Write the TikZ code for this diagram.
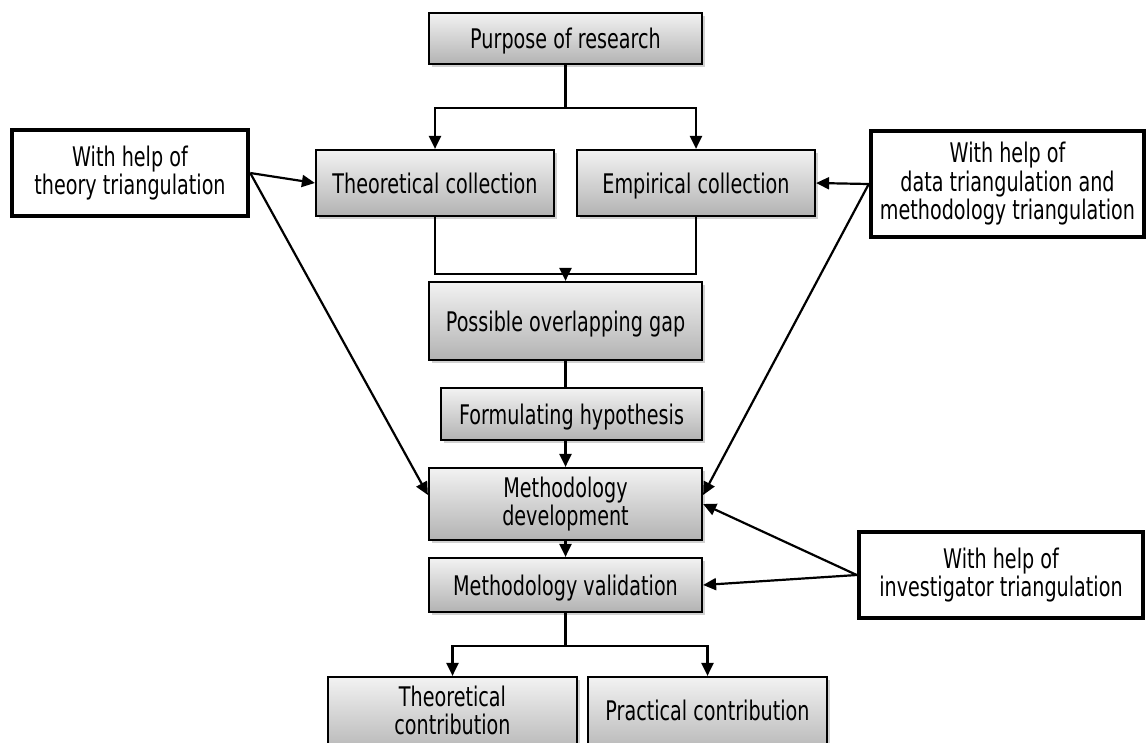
\documentclass[tikz,border=0pt]{standalone}
\usepackage{fontspec}
\setmainfont[FakeStretch=0.71]{DejaVu Sans}
\usetikzlibrary{arrows.meta,shadows,calc}

\tikzset{
  textstyle/.style={font=\fontsize{27}{28.5}\selectfont, align=center, inner sep=2pt},
  oneline/.style={text height=20pt, text depth=0pt},
  stagebox/.style={textstyle, draw=black, line width=2.2pt, rectangle,
    top color=black!5, bottom color=black!30,
    drop shadow={shadow xshift=2.5pt, shadow yshift=-2.5pt, opacity=0.3, fill=black!60}},
  helpbox/.style={textstyle, draw=black, line width=4.5pt, rectangle, fill=white},
  link/.style={line width=2.2pt, draw=black},
  arrowlink/.style={link, -{Triangle[length=13pt,width=12pt]}},
}

\begin{document}
\begin{tikzpicture}[x=1pt,y=-1pt]
\useasboundingbox (0,0) rectangle (1147,742);
\clip (0,0) rectangle (1147,742);

% main stages
\node[stagebox, oneline, minimum width=273pt, minimum height=51pt] (purpose) at (565.5,38.5) {Purpose of research};
\node[stagebox, oneline, minimum width=238pt, minimum height=66pt] (theo) at (435,183) {Theoretical collection};
\node[stagebox, oneline, minimum width=238pt, minimum height=66pt] (emp) at (696,183) {Empirical collection};
\node[stagebox, oneline, minimum width=273pt, minimum height=78pt] (gap) at (565.5,321) {Possible overlapping gap};
\node[stagebox, oneline, minimum width=261pt, minimum height=52pt] (hyp) at (571.5,414) {Formulating hypothesis};
\node[stagebox, minimum width=273pt, minimum height=72pt] (dev) at (565.5,504) {Methodology\\development};
\node[stagebox, oneline, minimum width=273pt, minimum height=54pt] (val) at (565.5,585) {Methodology validation};
% the last row runs on below the lower edge
\node[stagebox, minimum width=249pt, minimum height=80pt] (tcon) at (452.5,717) {Theoretical\\contribution\rule[-14pt]{0pt}{0pt}};
\node[stagebox, oneline, text depth=14pt, minimum width=239pt, minimum height=80pt] (pcon) at (707.5,717) {Practical contribution};

% triangulation notes
\node[helpbox, minimum width=236pt, minimum height=86pt] (theotri) at (130,173) {With help of\\theory triangulation};
\node[helpbox, minimum width=273pt, minimum height=106pt] (datatri) at (1007.5,184) {With help of\\data triangulation and\\methodology triangulation};
\node[helpbox, minimum width=284pt, minimum height=86pt] (invtri) at (1001,575) {With help of\\investigator triangulation};

% flow between stages
\draw[link] (purpose.south) -- ++(0,43) coordinate (split1);
\draw[arrowlink] (split1) -| (theo.north);
\draw[arrowlink] (split1) -| (emp.north);
\coordinate (join) at ($(purpose.south)+(0,209)$);
\draw[link] (theo.south) |- (join) -| (emp.south);
\draw[arrowlink] (join) -- (gap.north);
\draw[link] (gap.south) -- (gap.south |- hyp.north);
\draw[arrowlink] (hyp.south -| gap.south) -- (dev.north);
\draw[arrowlink] (dev.south) -- (val.north);
\draw[link] (val.south) -- ++(0,33) coordinate (split2);
\draw[arrowlink] (split2) -| (tcon.north);
\draw[arrowlink] (split2) -| (pcon.north);

% triangulation support
\draw[arrowlink] (theotri.east) -- (theo.west);
\draw[arrowlink] (theotri.east) -- ($(dev.west)+(0,-9)$);
\draw[arrowlink] (datatri.west) -- (emp.east);
\draw[arrowlink] (datatri.west) -- ($(dev.east)+(0,-9)$);
\draw[arrowlink] (invtri.west) -- (dev.east);
\draw[arrowlink] (invtri.west) -- (val.east);
\end{tikzpicture}
\end{document}
